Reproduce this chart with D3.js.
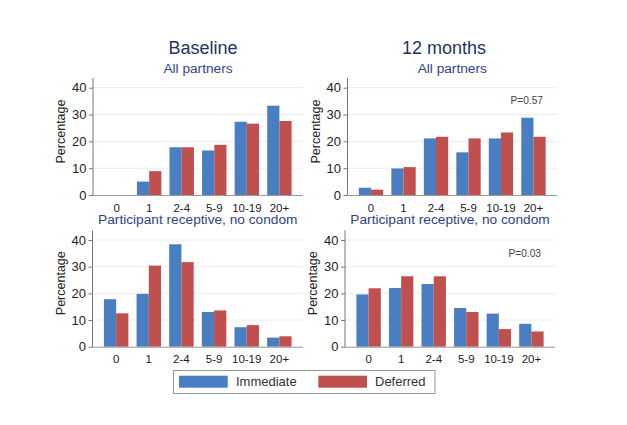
<!DOCTYPE html>
<html>
<head>
<meta charset="utf-8">
<script src="https://cdn.jsdelivr.net/npm/d3@7"></script>
<style>
  html, body { margin: 0; padding: 0; background: #fff; }
  svg { display: block; font-family: "Liberation Sans", Arial, sans-serif; }
</style>
</head>
<body>
<svg id="chart" width="627" height="425"></svg>
<script>
// ---- data ----
const categories = ["0", "1", "2-4", "5-9", "10-19", "20+"];
const seriesNames = ["Immediate", "Deferred"];
const yTicks = [0, 10, 20, 30, 40];

const baselineAllImmediate = [0, 5.0, 17.8, 16.6, 27.3, 33.3];
const baselineAllDeferred  = [0, 8.9, 17.8, 18.7, 26.6, 27.6];
const month12AllImmediate  = [2.7, 9.9, 21.1, 15.9, 21.1, 28.8];
const month12AllDeferred   = [2.0, 10.4, 21.7, 21.1, 23.3, 21.7];
const baselineRecImmediate = [17.8, 19.8, 38.4, 13.0, 7.3, 3.4];
const baselineRecDeferred  = [12.5, 30.4, 31.7, 13.6, 8.1, 3.9];
const month12RecImmediate  = [19.6, 22.0, 23.5, 14.5, 12.4, 8.6];
const month12RecDeferred   = [21.9, 26.4, 26.4, 13.0, 6.6, 5.7];

const colors = { Immediate: "#4a7ec3", Deferred: "#c0504d" };

// ---- layout ----
const panels = [
  { x0: 93,    x1: 303, y0: 195,   y40: 87.7, title: "Baseline",  titleX: 203,
    sub: "All partners", imm: baselineAllImmediate, def: baselineAllDeferred, p: null },
  { x0: 347.5, x1: 557, y0: 195,   y40: 87.7, title: "12 months", titleX: 444,
    sub: "All partners", imm: month12AllImmediate, def: month12AllDeferred, p: "P=0.57" },
  { x0: 92.5,  x1: 303, y0: 346.7, y40: 240,  title: null,
    sub: "Participant receptive, no condom", imm: baselineRecImmediate, def: baselineRecDeferred, p: null },
  { x0: 345,   x1: 555, y0: 346.7, y40: 240,  title: null,
    sub: "Participant receptive, no condom", imm: month12RecImmediate, def: month12RecDeferred, p: "P=0.03" }
];

const svg = d3.select("#chart");

panels.forEach(P => {
  const g = svg.append("g");
  const x = d3.scaleBand().domain(categories).range([P.x0, P.x1])
    .paddingInner(0.25).paddingOuter(0.35);
  const xs = d3.scaleBand().domain(seriesNames).range([0, x.bandwidth()]).padding(0);
  const y = d3.scaleLinear().domain([0, 40]).range([P.y0, P.y40]);

  // gridlines
  g.selectAll(".grid").data(yTicks.filter(t => t > 0)).join("line")
    .attr("x1", P.x0).attr("x2", P.x1)
    .attr("y1", d => y(d)).attr("y2", d => y(d))
    .attr("stroke", "#ececec").attr("stroke-width", 1);

  // bars
  const rows = categories.map((c, i) => ({ c, Immediate: P.imm[i], Deferred: P.def[i] }));
  const grp = g.selectAll(".grp").data(rows).join("g")
    .attr("transform", d => `translate(${x(d.c)},0)`);
  grp.selectAll("rect").data(d => seriesNames.map(s => ({ s, v: d[s] }))).join("rect")
    .attr("x", d => xs(d.s)).attr("width", xs.bandwidth())
    .attr("y", d => y(d.v)).attr("height", d => y(0) - y(d.v))
    .attr("fill", d => colors[d.s]);

  // y axis
  const yAxis = d3.axisLeft(y).tickValues(yTicks).tickSize(4).tickPadding(2.5);
  const ya = g.append("g").attr("transform", `translate(${P.x0},0)`).call(yAxis);
  ya.select(".domain").remove();
  ya.selectAll(".tick line").attr("stroke", "#777");
  ya.selectAll(".tick text").attr("font-size", "13px").attr("fill", "#222")
    .attr("font-family", "Liberation Sans, Arial, sans-serif");
  g.append("line").attr("x1", P.x0).attr("x2", P.x0)
    .attr("y1", y(0) + 0.5).attr("y2", y(43.6)).attr("stroke", "#777");

  // x axis
  const xAxis = d3.axisBottom(x).tickSize(0).tickPadding(8.5);
  const xa = g.append("g").attr("transform", `translate(0,${P.y0})`).call(xAxis);
  xa.select(".domain").attr("stroke", "#999").attr("d", `M${P.x0},0.5H${P.x1}`);
  xa.selectAll(".tick text").attr("font-size", "11.5px").attr("fill", "#222")
    .attr("font-family", "Liberation Sans, Arial, sans-serif");

  // y label
  g.append("text")
    .attr("transform", `translate(${P.x0 - 32},${P.y0 - 63.5}) rotate(-90)`)
    .attr("text-anchor", "middle").attr("dominant-baseline", "central")
    .attr("font-size", "12.5px").attr("fill", "#222").text("Percentage");

  // titles
  const cx = (P.x0 + P.x1) / 2;
  if (P.title) {
    g.append("text").attr("x", P.titleX).attr("y", P.y0 - 141)
      .attr("text-anchor", "middle").attr("font-size", "18px").attr("fill", "#1f3366")
      .text(P.title);
  }
  g.append("text").attr("x", cx).attr("y", P.y0 - 122.5)
    .attr("text-anchor", "middle").attr("font-size", "13.7px").attr("fill", "#2f4386")
    .text(P.sub);

  if (P.p) {
    g.append("text").attr("x", P.x1 - 14).attr("y", y(40) + 16.5)
      .attr("text-anchor", "end").attr("font-size", "10.2px").attr("fill", "#444")
      .text(P.p);
  }
});

// legend
const leg = svg.append("g");
leg.append("rect").attr("x", 173.5).attr("y", 370.5).attr("width", 261.5).attr("height", 23)
  .attr("fill", "#fff").attr("stroke", "#999");
const legItems = [
  { s: "Immediate", sx: 179, tx: 236 },
  { s: "Deferred",  sx: 318.3, tx: 375 }
];
legItems.forEach(it => {
  leg.append("rect").attr("x", it.sx).attr("y", 375.7).attr("width", 48.7).attr("height", 12)
    .attr("fill", colors[it.s]);
  leg.append("text").attr("x", it.tx).attr("y", 386).attr("font-size", "13px")
    .attr("fill", "#333").text(it.s);
});
</script>
</body>
</html>
